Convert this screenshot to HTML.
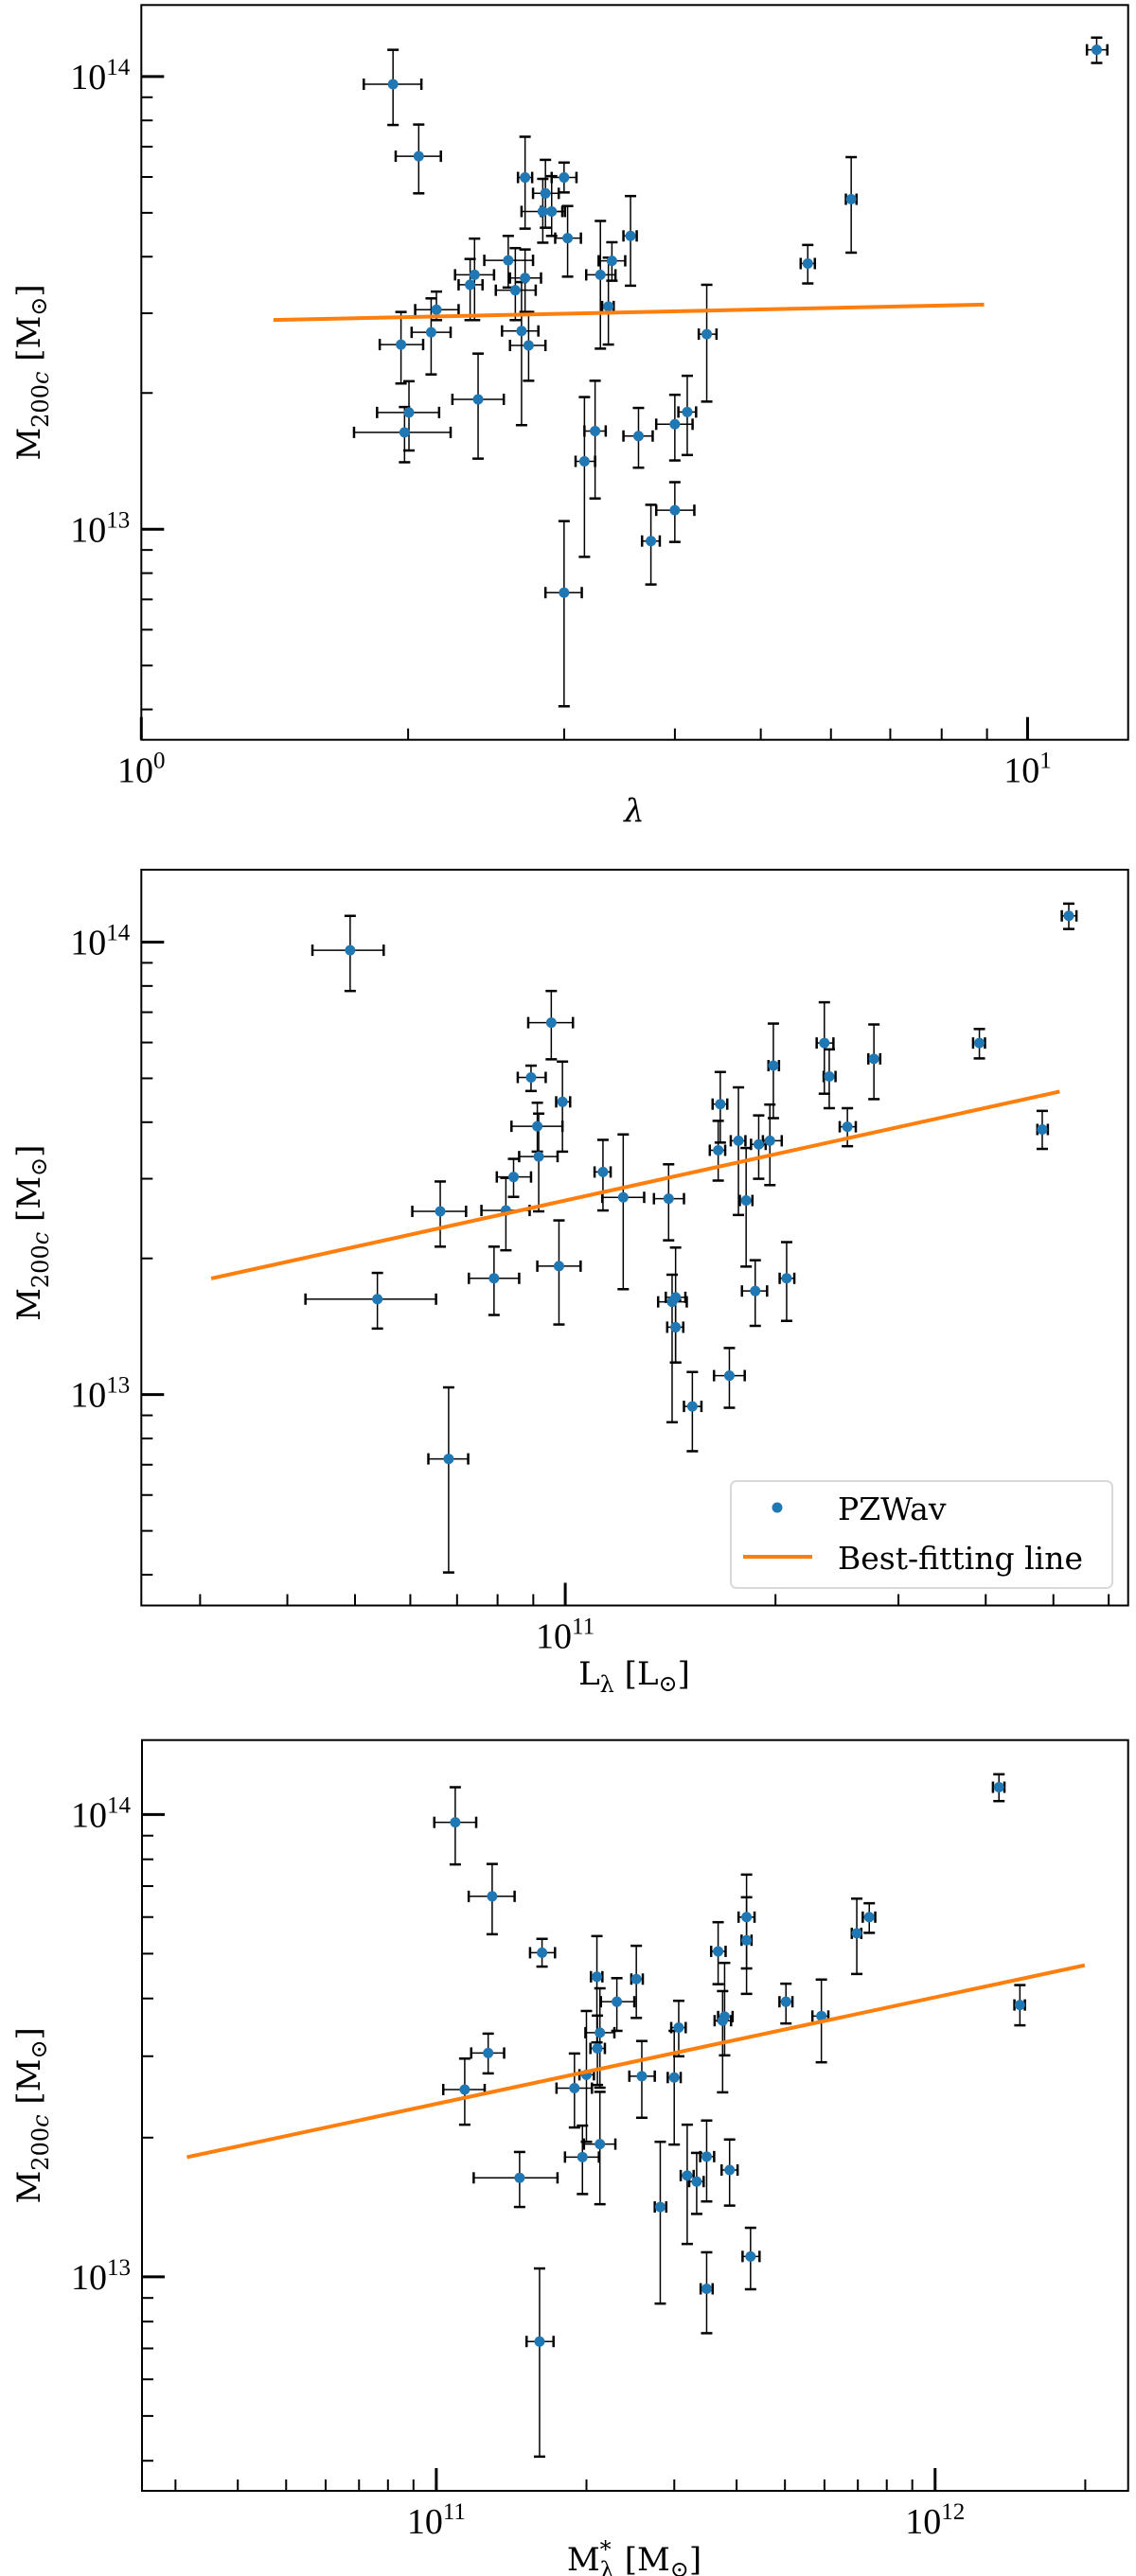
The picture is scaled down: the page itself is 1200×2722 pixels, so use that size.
<!DOCTYPE html>
<html><head><meta charset="utf-8"><style>
html,body{margin:0;padding:0;background:#fff;}
svg{display:block;font-family:"Liberation Serif","DejaVu Serif",serif;}
</style></head><body>
<svg id="fig" width="1200" height="2722" viewBox="0 0 1200 2722" xmlns="http://www.w3.org/2000/svg"></svg>
<script>
// ---- Panel 1 data (log10 values) : lambda vs M200c ----
const p1_x   = [.284,.313,.433,.477,.456,.453,.463,.481,.552,.531,.518,.414,.376,.371,.422,.433,.333,.327,.293,.429,.437,.527,.380,.302,.297,.638,.752,.801,1.078,.616,.602,.561,.512,.500,.602,.575,.477];
const p1_xlo = [.251,.287,.425,.463,.442,.429,.451,.467,.544,.516,.502,.387,.354,.358,.400,.416,.309,.305,.269,.407,.416,.520,.351,.266,.240,.629,.744,.795,1.067,.606,.581,.544,.500,.490,.581,.565,.456];
const p1_xhi = [.316,.338,.441,.491,.471,.478,.475,.496,.559,.546,.535,.442,.398,.385,.445,.451,.358,.349,.318,.448,.456,.533,.409,.336,.349,.649,.760,.807,1.090,.626,.622,.577,.524,.512,.624,.585,.497];
const p1_y   = [13.983,13.824,13.777,13.777,13.742,13.702,13.702,13.643,13.648,13.593,13.562,13.594,13.562,13.540,13.528,13.555,13.485,13.435,13.408,13.438,13.406,13.492,13.287,13.258,13.214,13.431,13.587,13.729,14.059,13.259,13.232,13.206,13.217,13.150,13.042,12.974,12.860];
const p1_yhi = [14.059,13.894,13.867,13.810,13.816,13.774,13.780,13.714,13.736,13.634,13.681,13.648,13.642,13.597,13.621,13.618,13.525,13.510,13.480,13.546,13.480,13.600,13.388,13.327,13.270,13.540,13.628,13.822,14.086,13.339,13.297,13.268,13.328,13.292,13.104,13.054,13.018];
const p1_ylo = [13.893,13.742,13.664,13.744,13.666,13.633,13.648,13.558,13.538,13.549,13.399,13.534,13.462,13.462,13.462,13.480,13.462,13.342,13.322,13.230,13.328,13.408,13.156,13.174,13.148,13.282,13.543,13.611,14.030,13.164,13.152,13.136,13.068,12.939,12.972,12.878,12.609];
const p1_fit = [13.456, 0.0424, 0];
const p1_fitRange = [0.149, 0.951];

// ---- Panel 2 data (log10) : L_lambda vs M200c ----
const p2_x   = [10.692,10.980,10.951,10.996,10.960,10.962,10.926,10.915,10.821,11.054,11.083,11.148,10.898,10.991,10.731,10.833,11.153,11.158,11.158,11.182,11.235,11.272,11.317,11.259,11.219,11.222,11.248,11.277,11.293,11.298,11.371,11.378,11.404,11.442,11.593,11.683,11.721];
const p2_xlo = [10.638,10.947,10.932,10.987,10.923,10.934,10.902,10.880,10.781,11.042,11.053,11.127,10.862,10.960,10.628,10.804,11.133,11.144,11.146,11.170,11.213,11.253,11.307,11.250,11.207,11.211,11.237,11.266,11.283,11.291,11.360,11.370,11.393,11.434,11.584,11.676,11.711];
const p2_xhi = [10.740,11.011,10.972,11.007,10.996,10.989,10.951,10.949,10.858,11.065,11.113,11.170,10.934,11.022,10.815,10.861,11.174,11.172,11.169,11.195,11.257,11.289,11.328,11.268,11.229,11.232,11.258,11.287,11.310,11.306,11.384,11.387,11.416,11.451,11.601,11.691,11.732];
const p2_y   = [13.982,13.822,13.701,13.647,13.593,13.526,13.481,13.407,13.405,13.492,13.436,13.433,13.257,13.284,13.211,12.858,13.205,13.215,13.149,12.974,13.042,13.229,13.257,13.429,13.540,13.642,13.561,13.553,13.561,13.727,13.777,13.703,13.592,13.742,13.777,13.586,14.058];
const p2_yhi = [14.058,13.892,13.727,13.736,13.645,13.621,13.521,13.479,13.471,13.563,13.575,13.509,13.327,13.385,13.269,13.016,13.265,13.325,13.209,13.050,13.103,13.297,13.337,13.545,13.605,13.713,13.679,13.617,13.641,13.820,13.867,13.763,13.633,13.818,13.808,13.627,14.085];
const p2_ylo = [13.892,13.741,13.671,13.537,13.537,13.405,13.437,13.319,13.327,13.407,13.233,13.341,13.176,13.155,13.146,12.607,12.939,13.071,13.071,12.875,12.971,13.152,13.163,13.283,13.473,13.557,13.397,13.477,13.463,13.611,13.665,13.633,13.549,13.653,13.743,13.543,14.029];
const p2_fit = [13.429, 0.340, 11];
const p2_fitRange = [10.493, 11.708];

// ---- Panel 3 data (log10) : M*_lambda vs M200c ----
const p3_x   = [11.038,11.112,11.212,11.322,11.401,11.362,11.328,11.323,11.104,11.057,11.301,11.277,11.412,11.477,11.486,11.328,11.293,11.167,11.207,11.449,11.503,11.522,11.542,11.588,11.542,11.630,11.574,11.578,11.565,11.622,11.622,11.701,11.772,11.843,11.868,12.170,12.128];
const p3_xlo = [10.996,11.065,11.188,11.310,11.391,11.330,11.299,11.309,11.070,11.014,11.287,11.241,11.387,11.464,11.471,11.296,11.258,11.075,11.181,11.438,11.490,11.507,11.529,11.572,11.530,11.614,11.558,11.565,11.551,11.606,11.612,11.688,11.754,11.833,11.855,12.159,12.116];
const p3_xhi = [11.080,11.157,11.238,11.333,11.414,11.397,11.357,11.338,11.136,11.097,11.316,11.312,11.438,11.490,11.500,11.359,11.326,11.243,11.235,11.461,11.516,11.536,11.557,11.604,11.554,11.648,11.591,11.594,11.580,11.638,11.632,11.714,11.786,11.852,11.880,12.180,12.139];
const p3_y   = [13.983,13.823,13.701,13.649,13.644,13.595,13.528,13.494,13.484,13.405,13.437,13.408,13.434,13.431,13.539,13.287,13.259,13.214,12.860,13.151,13.219,13.206,13.260,13.231,12.974,13.044,13.554,13.563,13.704,13.778,13.728,13.595,13.564,13.743,13.778,13.588,14.059];
const p3_yhi = [14.059,13.893,13.731,13.737,13.716,13.646,13.624,13.565,13.526,13.472,13.575,13.483,13.510,13.532,13.597,13.400,13.327,13.270,13.018,13.292,13.329,13.268,13.338,13.297,13.053,13.106,13.618,13.679,13.767,13.870,13.821,13.634,13.643,13.818,13.808,13.631,14.087];
const p3_ylo = [13.892,13.741,13.671,13.507,13.560,13.532,13.409,13.415,13.440,13.329,13.292,13.323,13.344,13.286,13.477,13.157,13.179,13.151,12.611,12.942,13.071,13.136,13.163,13.154,12.878,12.973,13.399,13.479,13.633,13.667,13.612,13.548,13.464,13.655,13.744,13.544,14.029];
const p3_fit = [13.374, 0.2306, 11];
const p3_fitRange = [10.500, 12.300];

const NS = "http://www.w3.org/2000/svg";
const svg = document.getElementById('fig');
function mk(tag, attrs, parent) {
  const e = document.createElementNS(NS, tag);
  for (const k in attrs) e.setAttribute(k, attrs[k]);
  (parent || svg).appendChild(e);
  return e;
}
const DV = '"DejaVu Serif","Liberation Serif",serif';

function drawPanel(cfg) {
  const g = mk('g', {});
  
  
  const sx = v => cfg.x0 + (v - cfg.xl[0]) / (cfg.xl[1] - cfg.xl[0]) * (cfg.x1 - cfg.x0);
  const sy = v => cfg.y1 - (v - cfg.yl[0]) / (cfg.yl[1] - cfg.yl[0]) * (cfg.y1 - cfg.y0);

  const tg = mk('g', {stroke:'#000'}, g);
  
  
  for (let d = Math.floor(cfg.xl[0]); d <= Math.ceil(cfg.xl[1]); d++) {
    for (let k = 1; k <= 9; k++) {
      const v = d + Math.log10(k);
      if (v < cfg.xl[0] - 1e-6 || v > cfg.xl[1] + 1e-6) continue;
      const X = sx(v), major = (k === 1);
      mk('line', {x1:X, x2:X, y1:cfg.y1, y2:cfg.y1 - (major ? 24 : 12), 'stroke-width': major ? 3 : 2}, tg);
      if (major) {
        const t = mk('text', {x:X, y:cfg.y1 + 45, 'text-anchor':'middle', 'font-size':38, fill:'#000', stroke:'none'}, g);
        
        
        t.innerHTML = '10<tspan dy="-15" font-size="25">' + d + '</tspan>';
      }
    }
  }
  for (let d = Math.floor(cfg.yl[0]); d <= Math.ceil(cfg.yl[1]); d++) {
    for (let k = 1; k <= 9; k++) {
      const v = d + Math.log10(k);
      if (v < cfg.yl[0] || v > cfg.yl[1]) continue;
      const Y = sy(v), major = (k === 1);
      mk('line', {x1:cfg.x0, x2:cfg.x0 + (major ? 24 : 12), y1:Y, y2:Y, 'stroke-width': major ? 3 : 2}, tg);
      if (major) {
        const t = mk('text', {x:cfg.x0 - 12, y:Y + 13, 'text-anchor':'end', 'font-size':38, fill:'#000', stroke:'none'}, g);
        
        
        t.innerHTML = '10<tspan dy="-15" font-size="25">' + d + '</tspan>';
      }
    }
  }

  const eg = mk('g', {stroke:'#000', fill:'none'}, g);
  
  
  const pg = mk('g', {fill:'#1f77b4'}, g);
  
  
  const n = cfg.x.length, c = 6;
  for (let i = 0; i < n; i++) {
    const X = sx(cfg.x[i]), Y = sy(cfg.y[i]);
    const xa = sx(cfg.xlo[i]), xb = sx(cfg.xhi[i]);
    const ya = sy(cfg.ylo[i]), yb = sy(cfg.yhi[i]);
    mk('line', {x1:xa, x2:xb, y1:Y, y2:Y, 'stroke-width':1.5}, eg);
    mk('line', {x1:X, x2:X, y1:ya, y2:yb, 'stroke-width':1.5}, eg);
    mk('line', {x1:xa, x2:xa, y1:Y - c, y2:Y + c, 'stroke-width':2.5}, eg);
    mk('line', {x1:xb, x2:xb, y1:Y - c, y2:Y + c, 'stroke-width':2.5}, eg);
    mk('line', {x1:X - c, x2:X + c, y1:ya, y2:ya, 'stroke-width':2.5}, eg);
    mk('line', {x1:X - c, x2:X + c, y1:yb, y2:yb, 'stroke-width':2.5}, eg);
    const p = mk('circle', {cx:X, cy:Y, r:5.5}, pg);
    
    
  }

  const f = cfg.fit, fr = cfg.fitRange;
  const fy = v => f[0] + f[1] * (v - f[2]);
  const fl = mk('line', {x1:sx(fr[0]), y1:sy(fy(fr[0])), x2:sx(fr[1]), y2:sy(fy(fr[1])), stroke:'#ff7f0e', 'stroke-width':4}, g);
  
  

  const fr2 = mk('rect', {x:cfg.x0, y:cfg.y0, width:cfg.x1 - cfg.x0, height:cfg.y1 - cfg.y0, fill:'none', stroke:'#000', 'stroke-width':2}, g);
  
  

  const xt = mk('text', {x:cfg.xlabX, y:cfg.xlabY, 'text-anchor':'middle', 'font-size':34, 'font-family':DV, fill:'#000'}, g);
  
  
  xt.innerHTML = cfg.xlab;
  const cy = (cfg.y0 + cfg.y1) / 2 + cfg.ylabOff;
  const yt = mk('text', {x:0, y:0, 'text-anchor':'middle', 'font-size':34, 'font-family':DV, fill:'#000', transform:'translate(42,' + cy + ') rotate(-90)'}, g);
  
  
  yt.innerHTML = 'M<tspan dy="9" font-size="24">200<tspan font-style="italic">c</tspan></tspan><tspan dy="-9"> [M<tspan dy="7" font-size="24">⊙</tspan><tspan dy="-7">]</tspan></tspan>';
  return g;
}

drawPanel({name:'panel-lambda', x0:149.3, x1:1191.7, y0:5.3, y1:781.7, xl:[0, 1.1135], yl:[12.535, 14.158],
  x:p1_x, xlo:p1_xlo, xhi:p1_xhi, y:p1_y, ylo:p1_ylo, yhi:p1_yhi, fit:p1_fit, fitRange:p1_fitRange,
  xlab:'<tspan font-style="italic">λ</tspan>', xlabX:670, xlabY:868, ylabOff:0});
const g2 = drawPanel({name:'panel-luminosity', x0:149.3, x1:1191.7, y0:919, y1:1696.5, xl:[10.393, 11.806], yl:[12.534, 14.160],
  x:p2_x, xlo:p2_xlo, xhi:p2_xhi, y:p2_y, ylo:p2_ylo, yhi:p2_yhi, fit:p2_fit, fitRange:p2_fitRange,
  xlab:'L<tspan dy="8" font-size="24">λ</tspan><tspan dy="-8"> [L<tspan dy="7" font-size="24">⊙</tspan><tspan dy="-7">]</tspan></tspan>', xlabX:670, xlabY:1780, ylabOff:-5});
drawPanel({name:'panel-stellar-mass', x0:150, x1:1191.7, y0:1838.7, y1:2632, xl:[10.410, 12.387], yl:[12.537, 14.161],
  x:p3_x, xlo:p3_xlo, xhi:p3_xhi, y:p3_y, ylo:p3_ylo, yhi:p3_yhi, fit:p3_fit, fitRange:p3_fitRange,
  xlab:'M<tspan dy="-14" font-size="24">*</tspan><tspan dx="-12" dy="22" font-size="24">λ</tspan><tspan dy="-8"> [M<tspan dy="7" font-size="24">⊙</tspan><tspan dy="-7">]</tspan></tspan>', xlabX:670, xlabY:2716, ylabOff:0});

const lg = mk('g', {}, g2);


mk('rect', {x:772, y:1565, width:403, height:113, rx:6, fill:'#fff', 'fill-opacity':0.8, stroke:'#d9d9d9', 'stroke-width':2}, lg);
const le1 = mk('circle', {cx:821, cy:1593, r:5.5, fill:'#1f77b4'}, lg);


const lt1 = mk('text', {x:885, y:1606, 'font-size':33, 'font-family':DV, fill:'#000'}, lg);


lt1.textContent = 'PZWav';
const le2 = mk('line', {x1:785, x2:858, y1:1645, y2:1645, stroke:'#ff7f0e', 'stroke-width':4}, lg);


const lt2 = mk('text', {x:885, y:1658, 'font-size':33, 'font-family':DV, fill:'#000'}, lg);


lt2.textContent = 'Best-fitting line';
</script>
</body></html>
